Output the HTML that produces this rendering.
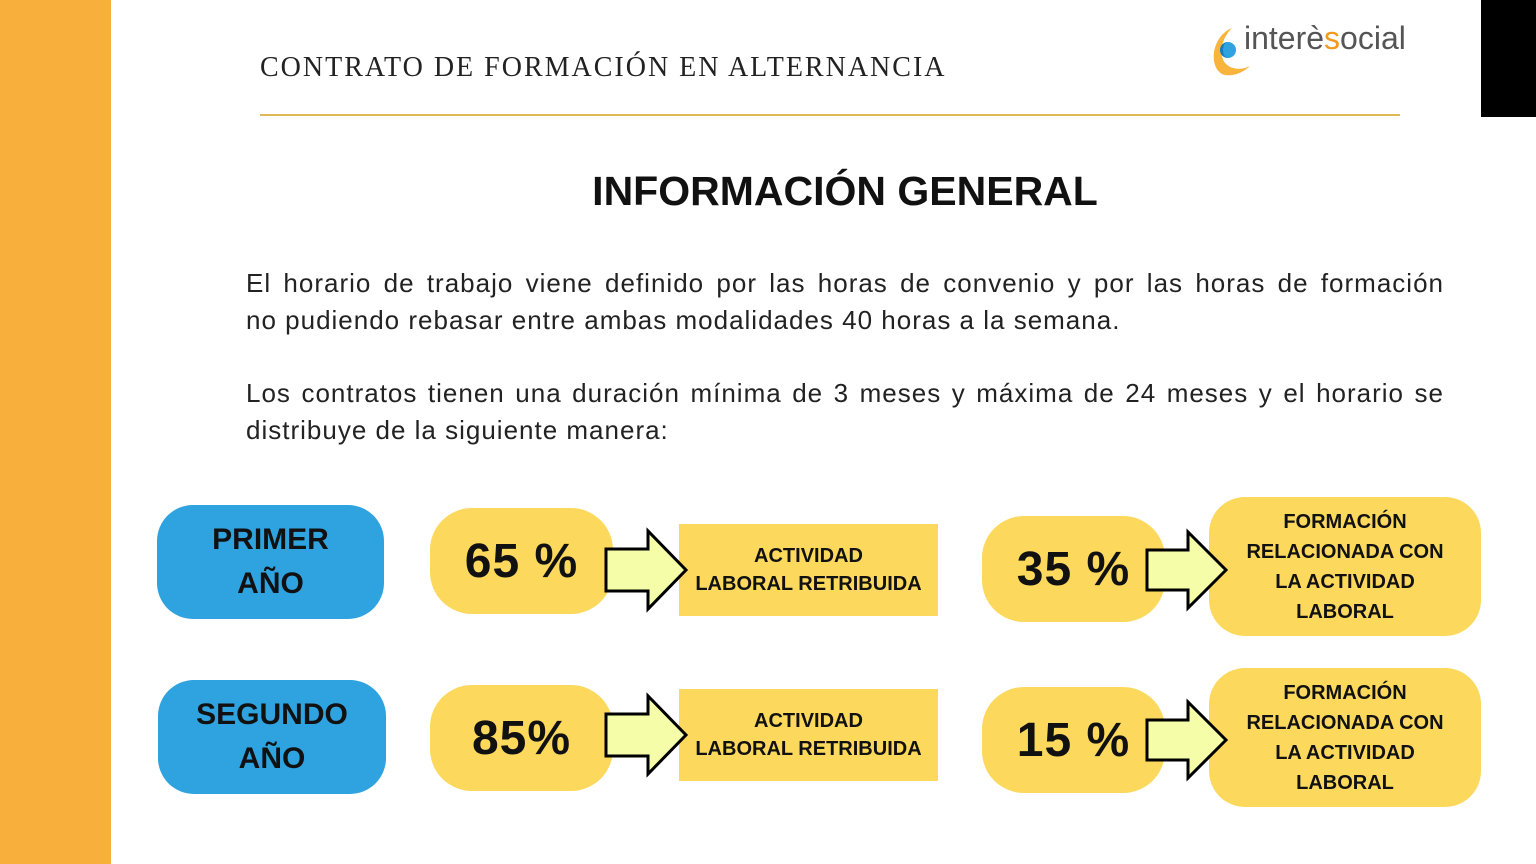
<!DOCTYPE html>
<html><head><meta charset="utf-8"><style>
body{margin:0;width:1536px;height:864px;background:#fff;position:relative;overflow:hidden;font-family:"Liberation Sans",sans-serif;}
.a{position:absolute;}
.bar{left:0;top:0;width:111px;height:864px;background:#F8AF3C;}
.blk{left:1481px;top:0;width:55px;height:117px;background:#000;}
.hdr{left:260px;top:52px;font-family:"Liberation Serif",serif;font-size:28px;letter-spacing:2px;color:#222;}
.line{left:260px;top:114px;width:1140px;height:2px;background:#E0B954;}
.title{left:0;width:1690px;top:168px;text-align:center;font-weight:bold;font-size:41px;color:#111;}
.p{left:246px;width:1198px;font-size:26px;line-height:37px;color:#222;white-space:nowrap;letter-spacing:1px;}
.j{text-align:justify;text-align-last:justify;}
.blue{background:#2EA3E0;border-radius:36px;display:flex;align-items:center;justify-content:center;text-align:center;font-weight:bold;font-size:30px;line-height:44px;color:#111;}
.y{background:#FCD95C;display:flex;align-items:center;justify-content:center;text-align:center;font-weight:bold;color:#111;}
.pct{border-radius:42px;font-size:48px;letter-spacing:1px;}
.box{font-size:20px;line-height:28px;}
.f{border-radius:36px;font-size:20px;line-height:30px;}
</style></head><body>
<div class="a bar"></div>
<div class="a blk"></div>
<div class="a hdr">CONTRATO DE FORMACIÓN EN ALTERNANCIA</div>
<div class="a" style="left:1210px;top:26px;width:50px;height:52px;">
<svg width="50" height="52"><path d="M22 2 C2 10 -2 40 12 48 C22 52 34 46 40 40 C28 46 14 42 12 30 C10 18 16 8 22 2Z" fill="#F9B43C"/><circle cx="18" cy="24" r="8" fill="#2EA3E0"/><path d="M18 16 A8 8 0 0 0 18 32 A5 8 0 0 1 18 16Z" fill="#1C78BF"/></svg></div>
<div class="a" style="left:1244px;top:20px;font-size:32px;color:#555;">interè<span style="color:#F39A1E">s</span>ocial</div>
<div class="a line"></div>
<div class="a title">INFORMACIÓN GENERAL</div>
<div class="a p j" style="top:265px;">El horario de trabajo viene definido por las horas de convenio y por las horas de formación</div>
<div class="a p" style="top:302px;">no pudiendo rebasar entre ambas modalidades 40 horas a la semana.</div>
<div class="a p j" style="top:375px;">Los contratos tienen una duración mínima de 3 meses y máxima de 24 meses y el horario se</div>
<div class="a p" style="top:412px;">distribuye de la siguiente manera:</div>

<div class="a blue" style="left:157px;top:505px;width:227px;height:114px;">PRIMER<br>AÑO</div>
<div class="a blue" style="left:158px;top:680px;width:228px;height:114px;">SEGUNDO<br>AÑO</div>

<div class="a y pct" style="left:430px;top:508px;width:183px;height:106px;">65 %</div>
<div class="a y pct" style="left:430px;top:685px;width:183px;height:106px;">85%</div>
<div class="a y pct" style="left:982px;top:516px;width:183px;height:106px;">35 %</div>
<div class="a y pct" style="left:982px;top:687px;width:183px;height:106px;">15 %</div>

<div class="a y box" style="left:679px;top:524px;width:259px;height:92px;">ACTIVIDAD<br>LABORAL RETRIBUIDA</div>
<div class="a y box" style="left:679px;top:689px;width:259px;height:92px;">ACTIVIDAD<br>LABORAL RETRIBUIDA</div>

<div class="a y f" style="left:1209px;top:497px;width:272px;height:139px;">FORMACIÓN<br>RELACIONADA CON<br>LA ACTIVIDAD<br>LABORAL</div>
<div class="a y f" style="left:1209px;top:668px;width:272px;height:139px;">FORMACIÓN<br>RELACIONADA CON<br>LA ACTIVIDAD<br>LABORAL</div>

<svg class="a" style="left:0;top:0" width="1536" height="864">
<g fill="#F5FDA8" stroke="#000" stroke-width="3" stroke-linejoin="miter">
<polygon points="606,549 648,549 648,531 686,570 648,609 648,591 606,591"/>
<polygon points="606,714 648,714 648,696 686,735 648,774 648,756 606,756"/>
<polygon points="1147,550 1188,550 1188,532 1226,570 1188,608 1188,590 1147,590"/>
<polygon points="1147,720 1188,720 1188,702 1226,740 1188,778 1188,760 1147,760"/>
</g></svg>
</body></html>
